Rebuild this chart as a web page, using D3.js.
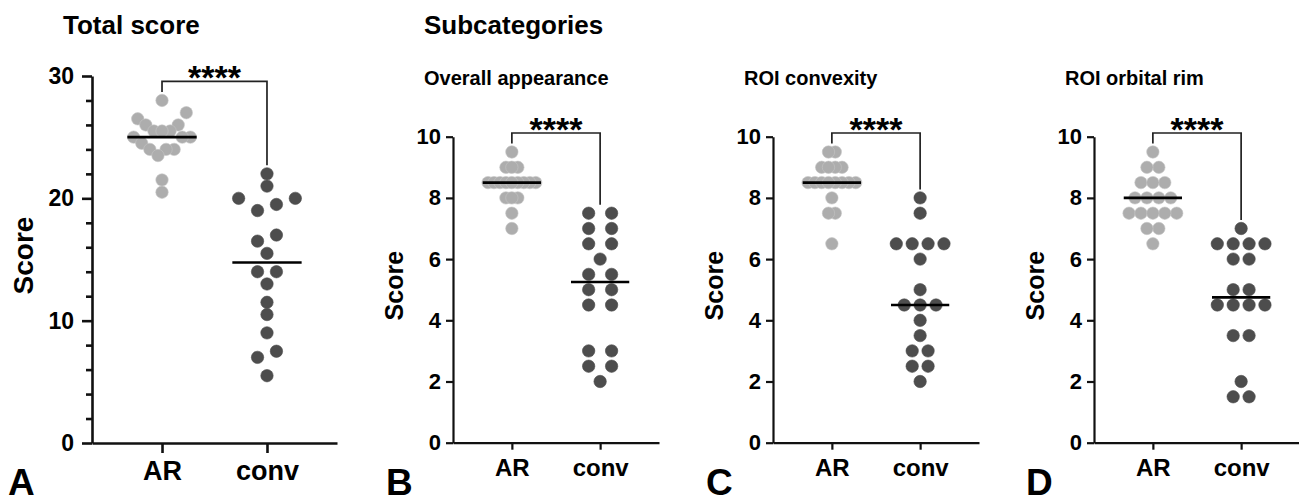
<!DOCTYPE html>
<html>
<head>
<meta charset="utf-8">
<script src="https://cdn.jsdelivr.net/npm/d3@7"></script>
<style>
  body { margin: 0; background: #fff; overflow: hidden; }
  text { font-family: 'Liberation Sans', Arial, sans-serif; font-weight: bold; fill: #000; }
</style>
</head>
<body>
<script>
// groups on the x axis
const groups = ['AR', 'conv']

// scores, one array per panel and group
const totalAR = [28, 27, 26.5, 26, 26, 25.5, 25.5, 25.5, 25, 25, 25, 24.5, 24, 24, 24, 23.5, 21.5, 20.5]
const totalConv = [22, 21, 20, 20, 19.5, 19, 17, 16.5, 15.5, 14, 14, 13, 11.5, 10.5, 9, 7.5, 7, 5.5]
const appearAR = [9.5, 9, 9, 9, 8.5, 8.5, 8.5, 8.5, 8.5, 8.5, 8.5, 8.5, 8.5, 8, 8, 8, 7.5, 7]
const appearConv = [7.5, 7.5, 7, 7, 6.5, 6.5, 6, 5.5, 5.5, 5, 5, 4.5, 4.5, 3, 3, 2.5, 2.5, 2]
const convexAR = [9.5, 9.5, 9, 9, 9, 9, 8.5, 8.5, 8.5, 8.5, 8.5, 8.5, 8.5, 8.5, 8, 7.5, 7.5, 6.5]
const convexConv = [8, 7.5, 6.5, 6.5, 6.5, 6.5, 6, 5, 4.5, 4.5, 4.5, 4, 3.5, 3, 3, 2.5, 2.5, 2]
const rimAR = [9.5, 9, 9, 8.5, 8.5, 8.5, 8, 8, 8, 8, 7.5, 7.5, 7.5, 7.5, 7.5, 7, 7, 6.5]
const rimConv = [7, 6.5, 6.5, 6.5, 6.5, 6, 6, 5, 5, 4.5, 4.5, 4.5, 4.5, 3.5, 3.5, 2, 1.5, 1.5]

// axis ticks
const totalTicks = [0, 10, 20, 30]
const totalMinor = [2, 4, 6, 8, 12, 14, 16, 18, 22, 24, 26, 28]
const subTicks = [0, 2, 4, 6, 8, 10]

// labels
const headings = ['Total score', 'Subcategories']
const subTitles = ['Overall appearance', 'ROI convexity', 'ROI orbital rim']
const letters = ['A', 'B', 'C', 'D']
const stars = '****'

const width = 1299
const height = 503

const svg = d3.select('body').append('svg').attr('width', width).attr('height', height).style('display', 'block')

const panels = [
  {ar: totalAR, conv: totalConv, ticks: totalTicks, minor: totalMinor, max: 30, left: 92, w: 245, top: 76, bottom: 443,
   axisW: 2.6, tickLen: 10, tickFs: 23, scoreFs: 28, scoreOff: 59, catFs: 27, letter: letters[0], letterX: 8},
  {ar: appearAR, conv: appearConv, ticks: subTicks, minor: [], max: 10, left: 453, w: 206, top: 136.7, bottom: 442.7,
   axisW: 2.2, tickLen: 7, tickFs: 22, scoreFs: 25, scoreOff: 50, catFs: 24, letter: letters[1], letterX: 386, sub: subTitles[0]},
  {ar: convexAR, conv: convexConv, ticks: subTicks, minor: [], max: 10, left: 773, w: 206, top: 136.7, bottom: 442.7,
   axisW: 2.2, tickLen: 7, tickFs: 22, scoreFs: 25, scoreOff: 50, catFs: 24, letter: letters[2], letterX: 706, sub: subTitles[1]},
  {ar: rimAR, conv: rimConv, ticks: subTicks, minor: [], max: 10, left: 1094, w: 206, top: 136.7, bottom: 442.7,
   axisW: 2.2, tickLen: 7, tickFs: 22, scoreFs: 25, scoreOff: 50, catFs: 24, letter: letters[3], letterX: 1026, sub: subTitles[2]}
]

const r = 6.2

// column scatter: values close in y are put side by side, centred on the group
function swarm(values, y, cx, colW, maxSp) {
  const thr = 0.95 * 2 * r
  const pts = values.map(v => ({v: v, py: y(v)})).sort((a, b) => a.py - b.py)
  const clusters = []
  let cur = null
  pts.forEach(p => {
    if (cur && p.py - cur[cur.length - 1].py < thr && p.py - cur[0].py < 2 * thr) cur.push(p)
    else { cur = [p]; clusters.push(cur) }
  })
  const nmax = d3.max(clusters, c => c.length)
  const sp = nmax > 1 ? Math.min(maxSp, colW / (nmax - 1)) : 0
  clusters.forEach(c => {
    const n = c.length
    const lanes = d3.range(n).sort((a, b) => Math.abs(a - (n - 1) / 2) - Math.abs(b - (n - 1) / 2) || a - b)
    c.slice().reverse().forEach((p, i) => { p.px = cx + (lanes[i] - (n - 1) / 2) * sp })
  })
  return pts
}

svg.append('text').attr('x', 63).attr('y', 34).style('font-size', '26px').text(headings[0])
svg.append('text').attr('x', 424).attr('y', 34).style('font-size', '26px').text(headings[1])

panels.forEach(p => {
  const g = svg.append('g')
  const x = d3.scalePoint().domain(groups).range([p.left, p.left + p.w]).padding(0.667)
  const y = d3.scaleLinear().domain([0, p.max]).range([p.bottom, p.top])
  const step = x.step()

  // y axis
  const ya = g.append('g').attr('transform', `translate(${p.left},0)`)
    .call(d3.axisLeft(y).tickValues(p.ticks).tickSize(p.tickLen).tickSizeOuter(0).tickPadding(p.tickLen === 10 ? 8 : 5))
  if (p.minor.length) {
    g.append('g').attr('transform', `translate(${p.left},0)`)
      .call(d3.axisLeft(y).tickValues(p.minor).tickSize(6).tickSizeOuter(0).tickFormat(''))
      .call(a => a.select('.domain').remove())
  }
  // x axis
  const xa = g.append('g').attr('transform', `translate(0,${p.bottom})`)
    .call(d3.axisBottom(x).tickSize(p.tickLen).tickSizeOuter(0).tickPadding(p.tickLen === 10 ? 5 : 7))

  g.selectAll('.domain, .tick line').attr('stroke', '#111').attr('stroke-width', p.axisW)
  ya.selectAll('.tick text').style('font-size', p.tickFs + 'px').attr('fill', '#000')
  xa.selectAll('.tick text').style('font-size', p.catFs + 'px').attr('fill', '#000').attr('dy', '0.8em')

  g.append('text')
    .attr('transform', `translate(${p.left - p.scoreOff},${(p.top + p.bottom) / 2 - 4}) rotate(-90)`)
    .attr('text-anchor', 'middle').style('font-size', p.scoreFs + 'px').text('Score')

  // dots
  const colW = 0.54 * step
  const maxSp = 0.26 * step
  const sets = [{key: 'AR', vals: p.ar, fill: '#adadad', stroke: '#c4c4c4'}, {key: 'conv', vals: p.conv, fill: '#4d4d4d', stroke: '#4d4d4d'}]
  sets.forEach(s => {
    const pts = swarm(s.vals, y, x(s.key), colW, maxSp)
    g.append('g').selectAll('circle').data(pts).join('circle')
      .attr('cx', d => d.px).attr('cy', d => d.py).attr('r', r)
      .attr('fill', s.fill).attr('stroke', s.stroke).attr('stroke-width', 0.6)
  })
  sets.forEach(s => {
    const m = d3.median(s.vals)
    g.append('line')
      .attr('x1', x(s.key) - 0.33 * step).attr('x2', x(s.key) + 0.33 * step)
      .attr('y1', y(m)).attr('y2', y(m))
      .attr('stroke', '#000').attr('stroke-width', 2.6)
  })

  // significance bracket
  const yAR = y(d3.max(p.ar)) - 8.5
  const yConv = y(d3.max(p.conv)) - 8.5
  const yTop = Math.min(y(d3.max(p.ar)), y(d3.max(p.conv))) - 19
  g.append('path')
    .attr('d', d3.line()([[x('AR'), yAR], [x('AR'), yTop], [x('conv'), yTop], [x('conv'), yConv]]))
    .attr('fill', 'none').attr('stroke', '#222').attr('stroke-width', 1.7)
  g.append('text').attr('x', (x('AR') + x('conv')) / 2).attr('y', yTop + 8)
    .attr('text-anchor', 'middle').style('font-size', '34px').text(stars)

  if (p.sub) {
    svg.append('text').attr('x', p.left - 29).attr('y', 85).style('font-size', '20px').text(p.sub)
  }
  svg.append('text').attr('x', p.letterX).attr('y', 495).style('font-size', '37px').text(p.letter)
})
</script>
</body>
</html>
